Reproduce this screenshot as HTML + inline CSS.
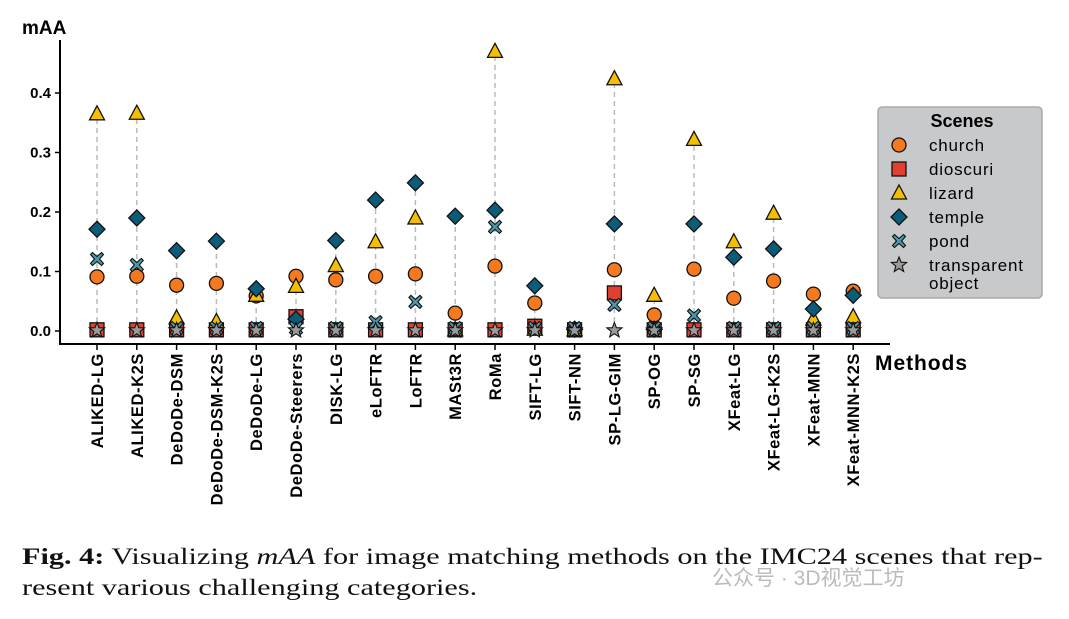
<!DOCTYPE html>
<html><head><meta charset="utf-8"><style>
body{margin:0;background:#fff;width:1069px;height:619px;overflow:hidden;font-family:"Liberation Sans",sans-serif}
.cap{position:absolute;left:22px;top:541px;font-family:"Liberation Serif",serif;font-size:23px;line-height:31px;color:#111;white-space:nowrap;transform:scaleX(1.315);transform-origin:0 0}
.wm{position:absolute;left:712px;top:562px;font-family:"Liberation Sans","Noto Sans CJK SC",sans-serif;font-size:21px;color:#bbb}
</style></head><body>
<svg id="chart" width="1069" height="530" style="position:absolute;left:0;top:0" font-family="Liberation Sans, DejaVu Sans, sans-serif"></svg>
<div class="cap"><b>Fig. 4:</b> Visualizing <i>mAA</i> for image matching methods on the IMC24 scenes that rep-<br>resent various challenging categories.</div>
<div class="wm">公众号 · 3D视觉工坊</div>
<script>
const methods=["ALIKED-LG","ALIKED-K2S","DeDoDe-DSM","DeDoDe-DSM-K2S","DeDoDe-LG","DeDoDe-Steerers","DISK-LG","eLoFTR","LoFTR","MASt3R","RoMa","SIFT-LG","SIFT-NN","SP-LG-GIM","SP-OG","SP-SG","XFeat-LG","XFeat-LG-K2S","XFeat-MNN","XFeat-MNN-K2S"];
const church=[0.091,0.092,0.077,0.080,0.059,0.092,0.086,0.092,0.096,0.030,0.109,0.047,0.002,0.103,0.027,0.104,0.055,0.084,0.062,0.067];
const dioscuri=[0.002,0.002,0.002,0.002,0.002,0.024,0.002,0.002,0.002,0.002,0.002,0.008,0.002,0.064,0.002,0.002,0.002,0.002,0.002,0.002];
const lizard=[0.365,0.366,0.022,0.016,0.060,0.075,0.110,0.150,0.190,0.002,0.470,0.003,0.002,0.424,0.060,0.322,0.150,0.198,0.020,0.024];
const temple=[0.171,0.190,0.135,0.151,0.071,0.020,0.152,0.220,0.249,0.193,0.203,0.076,0.003,0.180,0.003,0.180,0.124,0.138,0.037,0.060];
const pond=[0.121,0.111,0.005,0.005,0.005,0.005,0.005,0.015,0.049,0.005,0.175,0.005,0.005,0.044,0.005,0.026,0.005,0.005,0.005,0.005];
const transparent=[0.001,0.001,0.001,0.001,0.001,0.001,0.001,0.001,0.001,0.001,0.001,0.001,0.001,0.001,0.001,0.001,0.001,0.001,0.001,0.001];
const yTicks=[0.0,0.1,0.2,0.3,0.4];
const yTickLabels=["0.0","0.1","0.2","0.3","0.4"];

const svg=document.getElementById('chart');
const NS='http://www.w3.org/2000/svg';
const X=i=>97+i*39.8;
const Y=v=>331-v*595;
function mk(tag,attrs,parent){const e=document.createElementNS(NS,tag);for(const k in attrs)e.setAttribute(k,attrs[k]);(parent||svg).appendChild(e);return e;}
function shape(kind,cx,cy,g){
 let e;
 if(kind==='circle')e=mk('circle',{cx:cx,cy:cy,r:7,fill:'#f4791f',stroke:'#111','stroke-width':1.3},g);
 else if(kind==='square')e=mk('rect',{x:cx-7,y:cy-7,width:14,height:14,fill:'#e0402f',stroke:'#111','stroke-width':1.3},g);
 else if(kind==='tri')e=mk('polygon',{points:`${cx},${cy-8} ${cx+7.5},${cy+6} ${cx-7.5},${cy+6}`,fill:'#f5bf00',stroke:'#111','stroke-width':1.3},g);
 else if(kind==='diamond')e=mk('polygon',{points:`${cx},${cy-8} ${cx+8},${cy} ${cx},${cy+8} ${cx-8},${cy}`,fill:'#0b5c78',stroke:'#111','stroke-width':1.3},g);
 else if(kind==='x'){const b=6.5;
  e=mk('path',{d:`M${cx-b+2},${cy-b} L${cx},${cy-2.5} L${cx+b-2},${cy-b} L${cx+b},${cy-b+2} L${cx+2.5},${cy} L${cx+b},${cy+b-2} L${cx+b-2},${cy+b} L${cx},${cy+2.5} L${cx-b+2},${cy+b} L${cx-b},${cy+b-2} L${cx-2.5},${cy} L${cx-b},${cy-b+2} Z`,fill:'#4a98ab',stroke:'#111','stroke-width':1.1},g);}
 else {const pts=[];for(let k=0;k<10;k++){const r=k%2?3.4:8;const a=-Math.PI/2+k*Math.PI/5;pts.push((cx+r*Math.cos(a)).toFixed(1)+','+(cy+r*Math.sin(a)).toFixed(1));}
  e=mk('polygon',{points:pts.join(' '),fill:'#9a9a9a',stroke:'#111','stroke-width':1.1},g);}
 return e;
}
const ax=mk('line',{x1:60,y1:40,x2:60,y2:344,stroke:'#000','stroke-width':2});


const axx=mk('line',{x1:59,y1:344,x2:890,y2:344,stroke:'#000','stroke-width':2});


const yt=mk('text',{x:22,y:34,'font-size':19,'font-weight':'bold'});yt.textContent='mAA';


const xt=mk('text',{x:875,y:370,'font-size':21,'font-weight':'bold',textLength:92});xt.textContent='Methods';


yTicks.forEach((v,i)=>{
 mk('line',{x1:55,y1:Y(v),x2:60,y2:Y(v),stroke:'#000','stroke-width':1.5});
 const t=mk('text',{x:51,y:Y(v)+5,'font-size':15,'font-weight':'bold','text-anchor':'end'});t.textContent=yTickLabels[i];
 
 
});
const series=[[church,'circle','church'],[dioscuri,'square','dioscuri'],[lizard,'tri','lizard'],[temple,'diamond','temple'],[pond,'x','pond'],[transparent,'star','transparent']];
methods.forEach((m,i)=>{
 const x=X(i);
 const mx=Math.max(church[i],dioscuri[i],lizard[i],temple[i],pond[i],transparent[i]);
 const st=mk('line',{x1:x,y1:Y(0),x2:x,y2:Y(mx),stroke:'#bbb','stroke-width':1.5,'stroke-dasharray':'5,4'});
 
 
 mk('line',{x1:x,y1:344,x2:x,y2:350,stroke:'#000','stroke-width':1.5});
 const t=mk('text',{x:0,y:0,'font-size':16.5,'font-weight':'bold','text-anchor':'end','letter-spacing':0.6,transform:`translate(${x+6},353) rotate(-90)`});t.textContent=m;
 
 
});
series.forEach(([arr,kind,name])=>{
 const g=mk('g',{});
 
 
 arr.forEach((v,i)=>{const e=shape(kind,X(i),Y(v),g);
  
  });
});
const lg=mk('g',{});


mk('rect',{x:878,y:107,width:164,height:191,rx:4,fill:'#c8c9cb',stroke:'#aaa','stroke-width':1.5},lg);
const lt=mk('text',{x:962,y:127,'font-size':18,'font-weight':'bold','text-anchor':'middle'},lg);lt.textContent='Scenes';
const labels=['church','dioscuri','lizard','temple','pond','transparent'];
series.forEach(([arr,kind,name],k)=>{
 const y=145+k*24;
 const e=shape(kind,899,y,lg);
 
 
 const t=mk('text',{x:929,y:y+6,'font-size':17,'letter-spacing':0.8},lg);t.textContent=labels[k];
 if(k===5){const t2=mk('text',{x:929,y:y+24,'font-size':17,'letter-spacing':0.8},lg);t2.textContent='object';}
});
</script>
</body></html>
